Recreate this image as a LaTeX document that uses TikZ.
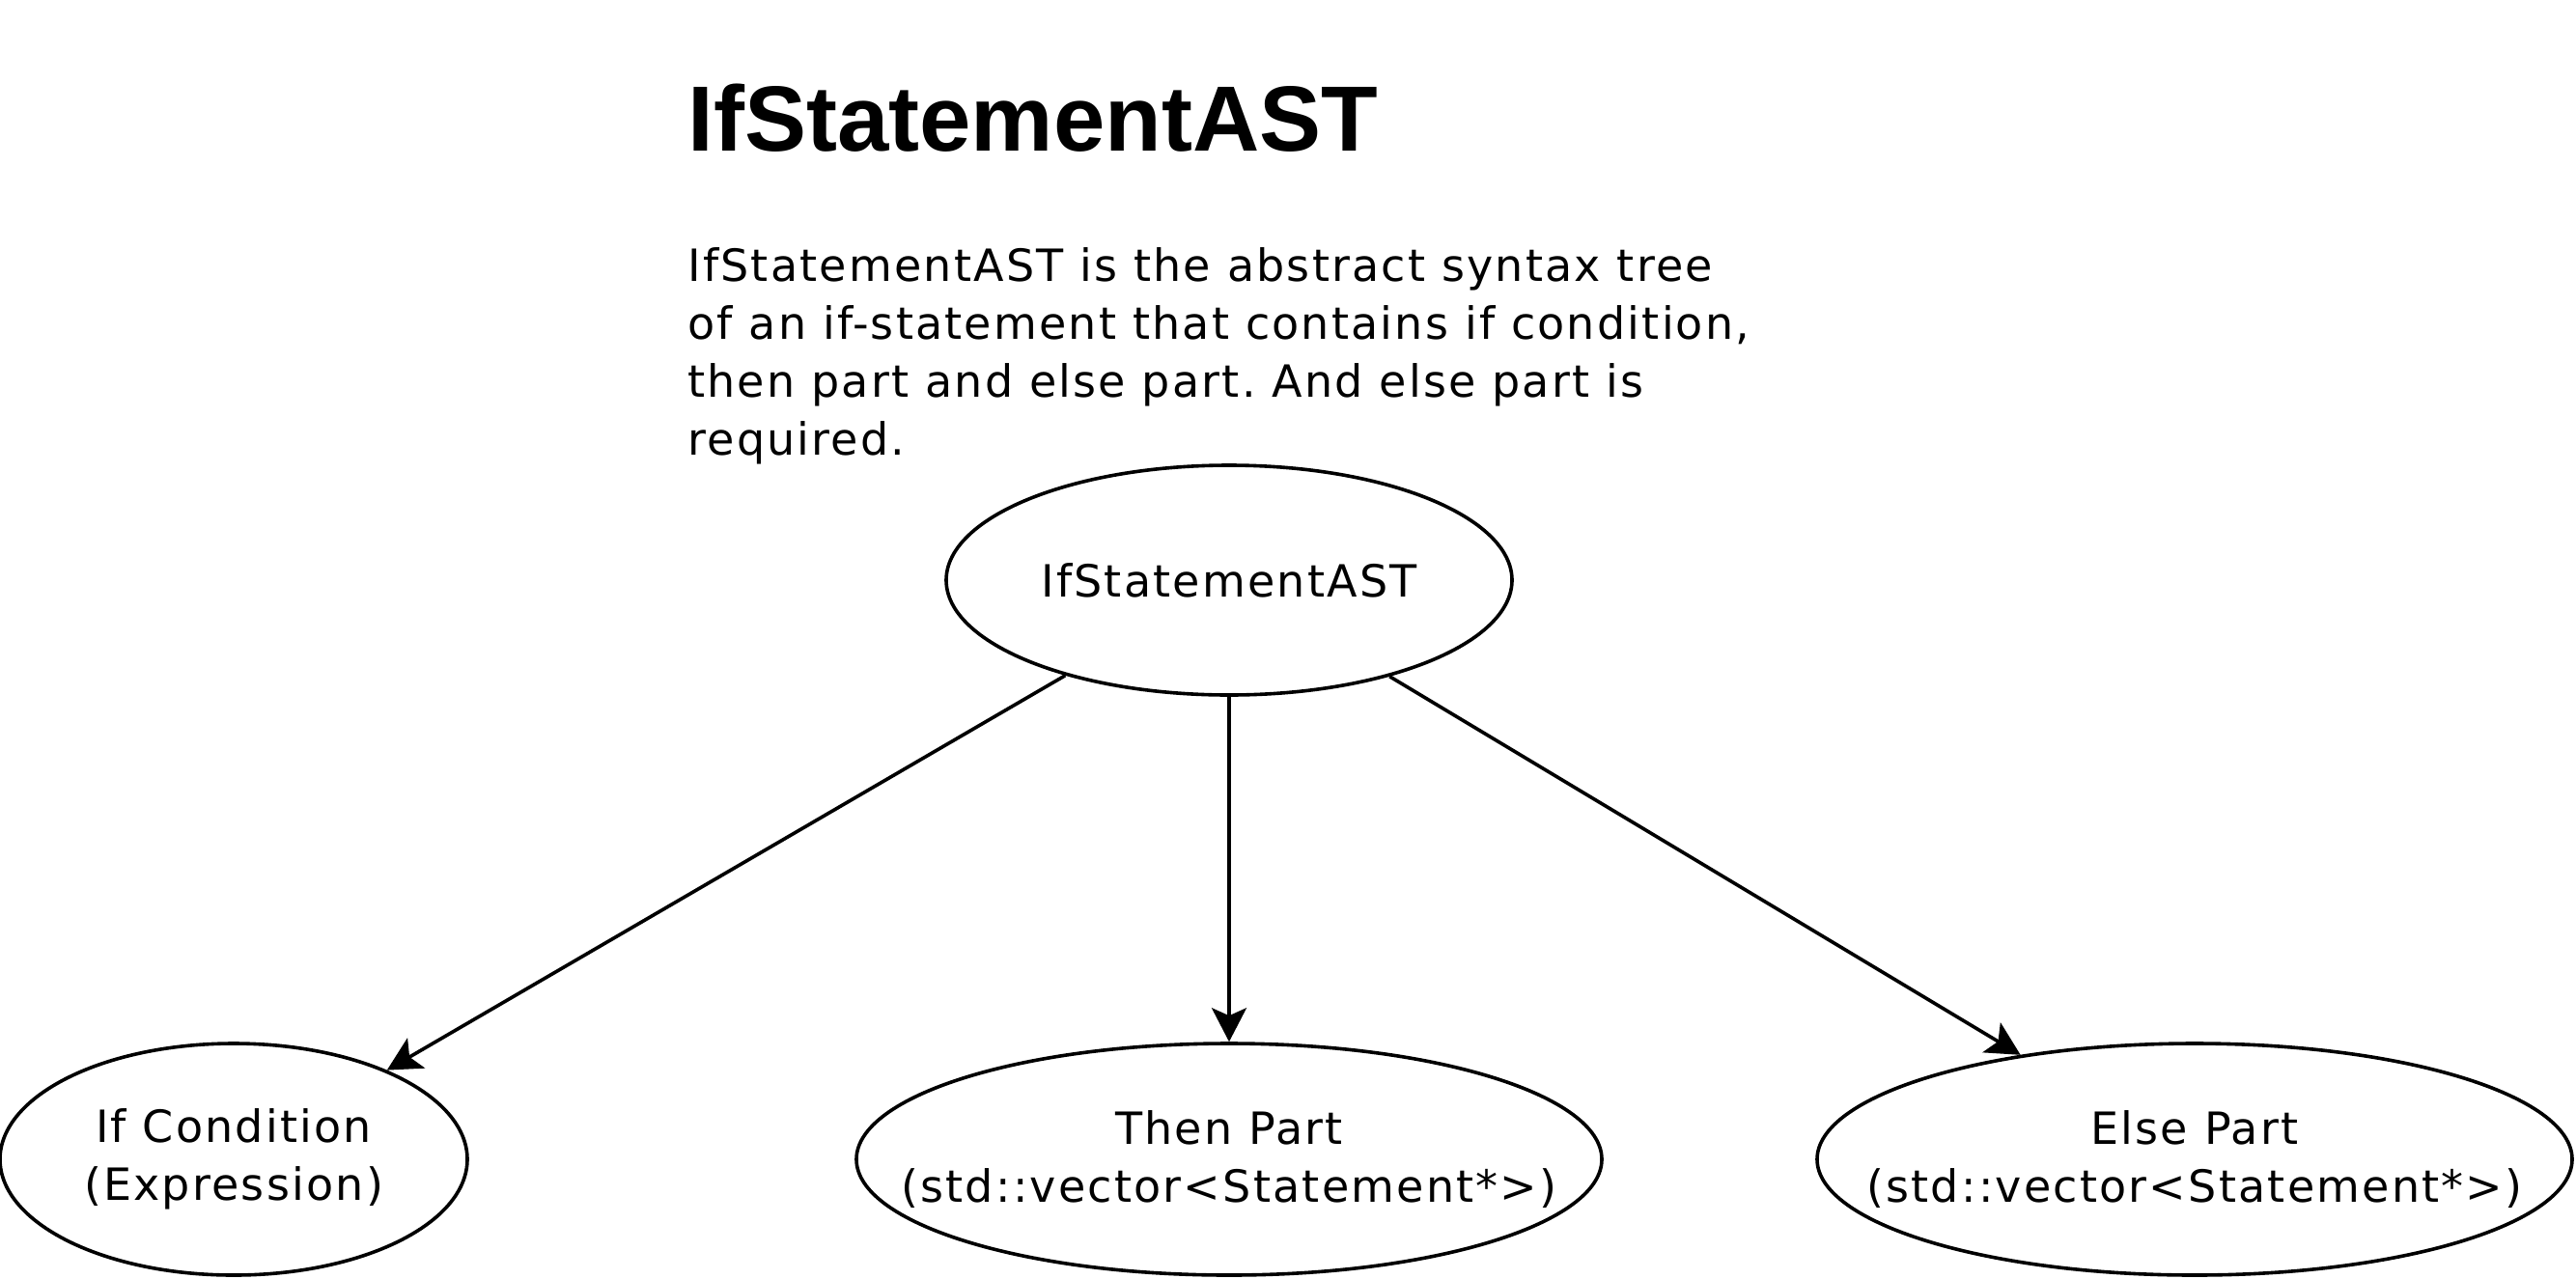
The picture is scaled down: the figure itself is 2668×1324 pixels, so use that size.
\documentclass[tikz,border=0pt]{standalone}
\usepackage{fontspec}
\setmainfont{DejaVu Sans}[LetterSpace=4.8]
\newfontfamily\titlefont{Liberation Sans}
\usetikzlibrary{arrows.meta,shapes.geometric}
\frenchspacing

\begin{document}
\begin{tikzpicture}[x=0.5pt,y=-0.5pt,>={Stealth[length=17.5pt,width=18pt,inset=4pt]},
    astnode/.style={ellipse,draw,line width=1.8pt,inner xsep=-50pt,inner ysep=0pt,align=center,font=\fontsize{23}{30}\selectfont},
    astarrow/.style={->,line width=1.8pt}]
    \useasboundingbox (0,0) rectangle (2668,1324);
    % title + description
    \node[anchor=base west,inner sep=0pt,font=\titlefont\bfseries\fontsize{48}{60}\selectfont] (title) at (712,156) {IfStatementAST};
    \node[anchor=base west,inner sep=0pt,align=left,font=\fontsize{23}{30}\selectfont] (desc) at (712,471)
      {IfStatementAST is the abstract syntax tree\\of an if-statement that contains if condition,\\then part and else part. And else part is\\required.};
    % ellipses
    \node[astnode,minimum width=293pt,minimum height=119pt] (root) at (1273,601) {IfStatementAST};
    \node[astnode,minimum width=242pt,minimum height=120pt] (ifcond) at (242,1201) {If Condition\\(Expression)};
    \node[astnode,minimum width=386pt,minimum height=120pt] (thenpart) at (1273,1201) {Then Part\\(std::vector<Statement*>)};
    \node[astnode,minimum width=391pt,minimum height=120pt] (elsepart) at (2273,1201) {Else Part\\(std::vector<Statement*>)};
    % arrows
    \draw[astarrow] (root) -- (ifcond);
    \draw[astarrow] (root) -- (thenpart);
    \draw[astarrow] (root) -- (elsepart);
\end{tikzpicture}
\end{document}
